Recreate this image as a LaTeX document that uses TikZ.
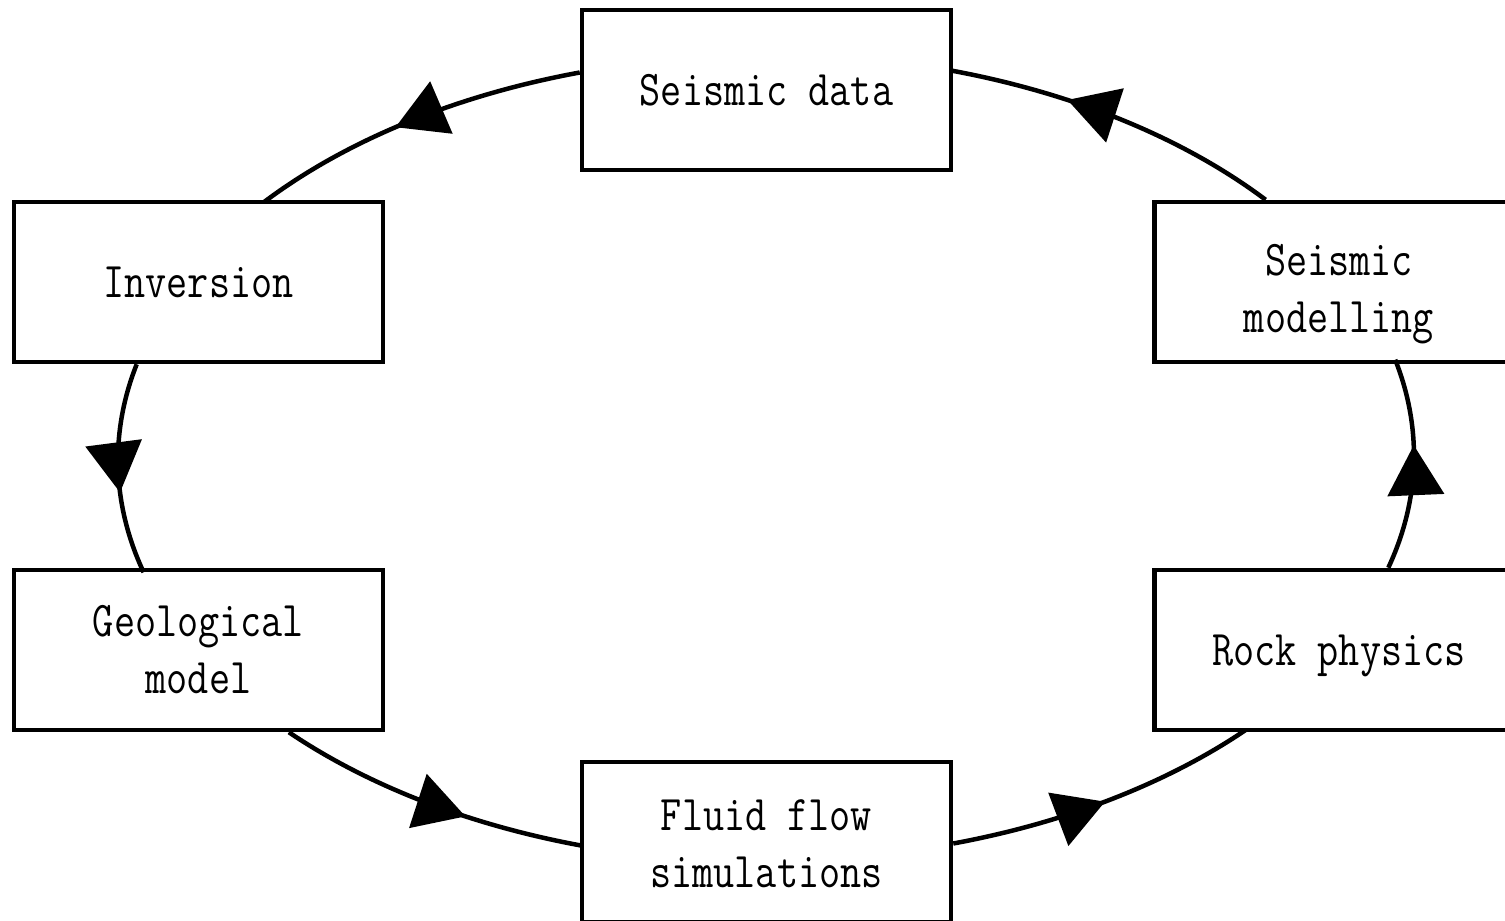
\documentclass[tikz,border=0pt]{standalone}
\usepackage{fontspec}
\newfontfamily\lmm[FakeStretch=0.82]{Latin Modern Mono}
\usetikzlibrary{arrows.meta,decorations.markings}
\tikzset{
  box/.style={draw, line width=4.5pt, fill=white, minimum width=369pt, minimum height=160pt,
    inner sep=0pt, align=center, text height=31pt, text depth=0pt,
    font=\lmm\fontsize{50}{57}\selectfont},
  twoline/.style={box, text height=88pt},
  conn/.style={line width=4.5pt, postaction={decorate},
    decoration={markings, mark=at position #1 with {\arrow{Triangle[length=50pt,width=56pt]}}}},
}
\begin{document}
\begin{tikzpicture}[x=1pt,y=-1pt]
\useasboundingbox (0,0) rectangle (1505,921);
\node[box] (sd)  at (766.5,90)  {Seismic data};
\node[box] (inv) at (198.5,282) {Inversion};
\node[twoline, text height=100pt] (sm)  at (1339,282)  {Seismic\\modelling};
\node[twoline, text height=86pt] (geo) at (198.5,650) {Geological\\model};
\node[box] (rp)  at (1339,650)  {Rock physics};
\node[twoline, text height=90pt] (ff)  at (766.5,842) {Fluid flow\\simulations};

\draw[conn=0.56] ([yshift=17.5pt]sd.west) arc[start angle=253.5, end angle=219.56, x radius=648, y radius=402];
\draw[conn=0.61] ([xshift=-61.8pt]inv.south) arc[start angle=193.82, end angle=163.82, x radius=648, y radius=402];
\draw[conn=0.62] ([xshift=90.4pt]geo.south) arc[start angle=137.42, end angle=106.5, x radius=648, y radius=402];
\draw[conn=0.5] ([yshift=-1.5pt]ff.east) arc[start angle=73.4, end angle=42.58, x radius=648, y radius=402];
\draw[conn=0.59] ([xshift=49.3pt]rp.north) arc[start angle=16.18, end angle=-13.82, x radius=648, y radius=402];
\draw[conn=0.65] ([xshift=-73.4pt]sm.north) arc[start angle=-39.56, end angle=-73.4, x radius=648, y radius=402];
\end{tikzpicture}
\end{document}
